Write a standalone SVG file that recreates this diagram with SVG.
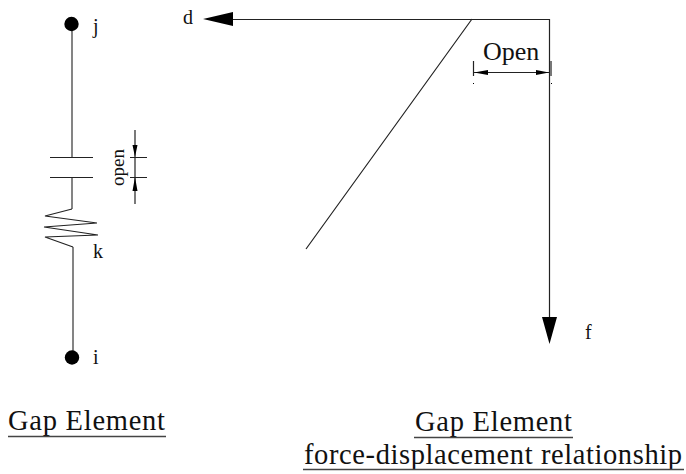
<svg xmlns="http://www.w3.org/2000/svg" width="686" height="474" viewBox="0 0 686 474">
<style>
text{font-family:"Liberation Serif","Times New Roman",serif;fill:#111}
.l{font-size:20px}
.t{font-size:28.500px}
.ln{fill:none;stroke:#222;stroke-width:1.200}
.g{fill:none;stroke:#666;stroke-width:1.600}
.a{fill:#000;stroke:none}
.u{stroke:#444;stroke-width:1.300;fill:none}
</style>
<rect width="686" height="474" fill="#fff"/>
<g id="connectors">
<path class="g" d="M72 26V157M72 177V209M73 247V358"/>
<path class="ln" d="M72 209 45 216 97 223 44 227 98 235 45 237 73 247"/>
<path class="ln" d="M50 157.500H93M50 177.500H93"/>
<path class="ln" d="M135 130V204M130 157.500H147M130 177.500H147"/>
<path class="a" d="M135 157 132.500 145H137.500ZM135 177 132.500 191H137.500Z"/>
<path class="ln" d="M220 19.500H549.500V320M472 19 306 249"/>
<path class="a" d="M203 19 233 12V26ZM549.500 344 542 317H557Z"/>
<path class="ln" d="M473.500 61V76M473 72.500H550"/>
<path d="M551 61V76" fill="none" stroke="#777" stroke-width="2"/>
<path class="a" d="M474 72.500 488 70V75ZM549 72.500 536 70V75Z"/>
<path class="a" d="M473 83h1v1h-1zM551 83h1v1h-1z"/>
</g>
<g id="node-j"><circle class="a" cx="71.500" cy="24" r="7.200"/><text class="l" x="93" y="33">j</text></g>
<g id="node-i"><circle class="a" cx="72" cy="357.500" r="7.200"/><text class="l" x="93" y="364">i</text></g>
<g id="label-k"><text class="l" x="93" y="258">k</text></g>
<g id="label-open"><text font-size="19" transform="translate(124 186) rotate(-90)">open</text></g>
<g id="label-d"><text class="l" x="183" y="24">d</text></g>
<g id="label-f"><text class="l" x="585" y="339">f</text></g>
<g id="label-Open"><text x="483" y="60" font-size="26">Open</text></g>
<g id="title-left"><text class="t" x="8" y="430" textLength="157">Gap Element</text><path class="u" d="M8 436.500H166"/></g>
<g id="title-right"><text class="t" x="415" y="431" textLength="157">Gap Element</text><path class="u" d="M414 437.500H573"/><text class="t" x="304" y="464" textLength="378">force-displacement relationship</text><path class="u" d="M303 469.500H684"/></g>
</svg>
